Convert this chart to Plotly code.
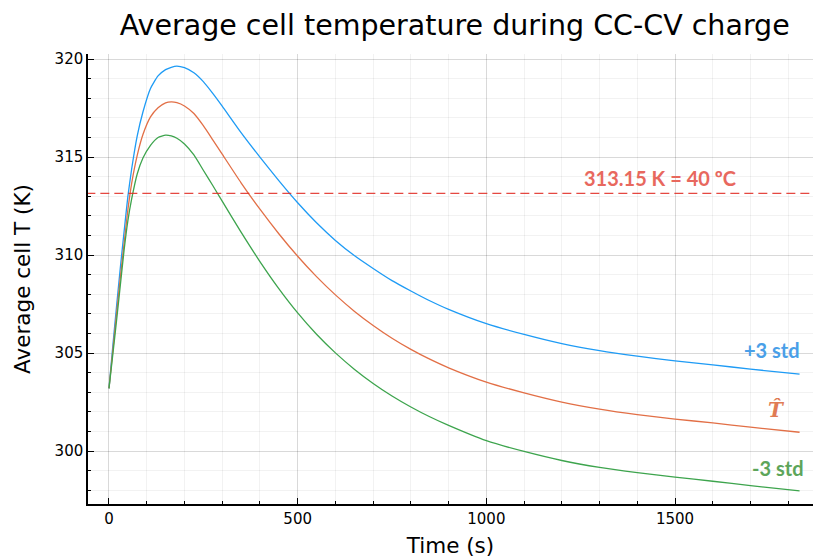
import plotly.graph_objects as go

time_s = [0, 10, 20, 30, 40, 50, 60, 75, 90, 110, 130, 150, 165, 180, 200, 225, 250, 275,
          300, 350, 400, 450, 500, 550, 600, 650, 700, 750, 800, 850, 900, 1000, 1100, 1200,
          1300, 1400, 1500, 1600, 1700, 1830]

T_plus3 = [303.2, 305.33, 307.38, 309.34, 311.19, 312.98, 314.38, 316.1, 317.3, 318.5, 319.14,
           319.46, 319.58, 319.64, 319.56, 319.3, 318.85, 318.25, 317.6, 316.25, 315.0, 313.8,
           312.67, 311.65, 310.75, 309.98, 309.32, 308.7, 308.17, 307.67, 307.23, 306.5, 305.95,
           305.48, 305.12, 304.84, 304.6, 304.4, 304.18, 303.93]

T_hat = [303.2, 305.1, 307.0, 308.85, 310.6, 312.3, 313.65, 315.1, 316.15, 317.05, 317.52,
         317.77, 317.82, 317.78, 317.61, 317.22, 316.6, 315.88, 315.15, 313.69, 312.34,
         311.09, 309.94, 308.9, 307.97, 307.14, 306.41, 305.76, 305.19, 304.69, 304.25, 303.52,
         302.97, 302.5, 302.14, 301.86, 301.63, 301.44, 301.22, 300.96]

T_minus3 = [303.2, 304.9, 306.65, 308.45, 310.25, 311.75, 312.85, 314.15, 314.95, 315.6, 316.0,
            316.12, 316.08, 315.96, 315.67, 315.11, 314.33, 313.55, 312.75, 311.17, 309.67,
            308.29, 307.05, 305.96, 305.01, 304.18, 303.45, 302.81, 302.25, 301.75, 301.31,
            300.53, 299.98, 299.52, 299.17, 298.9, 298.67, 298.46, 298.24, 297.97]

limit_K = 313.15

labels = ["+3 std", "<i>T̂</i>", "-3 std"]
label_x = [1757, 1770, 1773]
label_y = [305.15, 302.1, 299.13]

line_colors = ["#1E9BF5", "#E26F46", "#3DA44D"]
text_colors = ["#4A9FE8", "#E07B55", "#5DA55A"]

fig = go.Figure()
for ys, c in zip([T_plus3, T_hat, T_minus3], line_colors):
    fig.add_trace(go.Scatter(x=time_s, y=ys, mode="lines",
                             line=dict(color=c, width=1.3, shape="spline", smoothing=0.5),
                             showlegend=False, hoverinfo="skip"))

fig.add_trace(go.Scatter(x=[-60, 1900], y=[limit_K, limit_K], mode="lines",
                         line=dict(color="rgba(225,40,32,0.85)", width=1.4, dash="9px,5px"),
                         showlegend=False, hoverinfo="skip"))

fig.add_annotation(x=1460, y=313.93, text="<b>313.15 K = 40 ºC</b>", showarrow=False,
                   font=dict(family="Lato", size=20, color="#E8685E"))
for t, xx, yy, c in zip(labels, label_x, label_y, text_colors):
    fam = "DejaVu Serif" if "T" in t else "Lato"
    fig.add_annotation(x=xx, y=yy, text="<b>" + t + "</b>", showarrow=False,
                       font=dict(family=fam, size=20, color=c))

grid_major = "rgba(0,0,0,0.10)"
grid_minor = "rgba(0,0,0,0.05)"

fig.update_layout(
    width=815, height=558,
    margin=dict(l=88, r=2, t=54, b=54),
    paper_bgcolor="white", plot_bgcolor="white",
    font=dict(family="DejaVu Sans", color="black"),
    title=dict(text="Average cell temperature during CC-CV charge", x=0.558, xanchor="center",
               y=0.955, yanchor="middle", font=dict(size=28.5, family="DejaVu Sans")),
    xaxis=dict(range=[-55.6, 1865.6], tickmode="array", tickvals=[0, 500, 1000, 1500],
               ticks="inside", ticklen=6, tickwidth=1.2, tickcolor="black",
               showline=True, linecolor="black", linewidth=1.5, mirror=False,
               showgrid=True, gridcolor=grid_major, gridwidth=1, zeroline=False,
               minor=dict(dtick=100, tick0=0, ticks="inside", ticklen=3, tickcolor="black",
                          showgrid=True, gridcolor=grid_minor),
               tickfont=dict(size=15), title=dict(text="Time (s)", font=dict(size=21.5), standoff=12)),
    yaxis=dict(range=[297.3, 320.26], tickmode="array", tickvals=[300, 305, 310, 315, 320],
               ticks="inside", ticklen=6, tickwidth=1.2, tickcolor="black",
               showline=True, linecolor="black", linewidth=1.5, mirror=False,
               showgrid=True, gridcolor=grid_major, gridwidth=1, zeroline=False,
               minor=dict(dtick=1, tick0=300, ticks="inside", ticklen=3, tickcolor="black",
                          showgrid=True, gridcolor=grid_minor),
               tickfont=dict(size=15), title=dict(text="Average cell T (K)", font=dict(size=21.5), standoff=18)),
)

fig.write_html("out.html")
